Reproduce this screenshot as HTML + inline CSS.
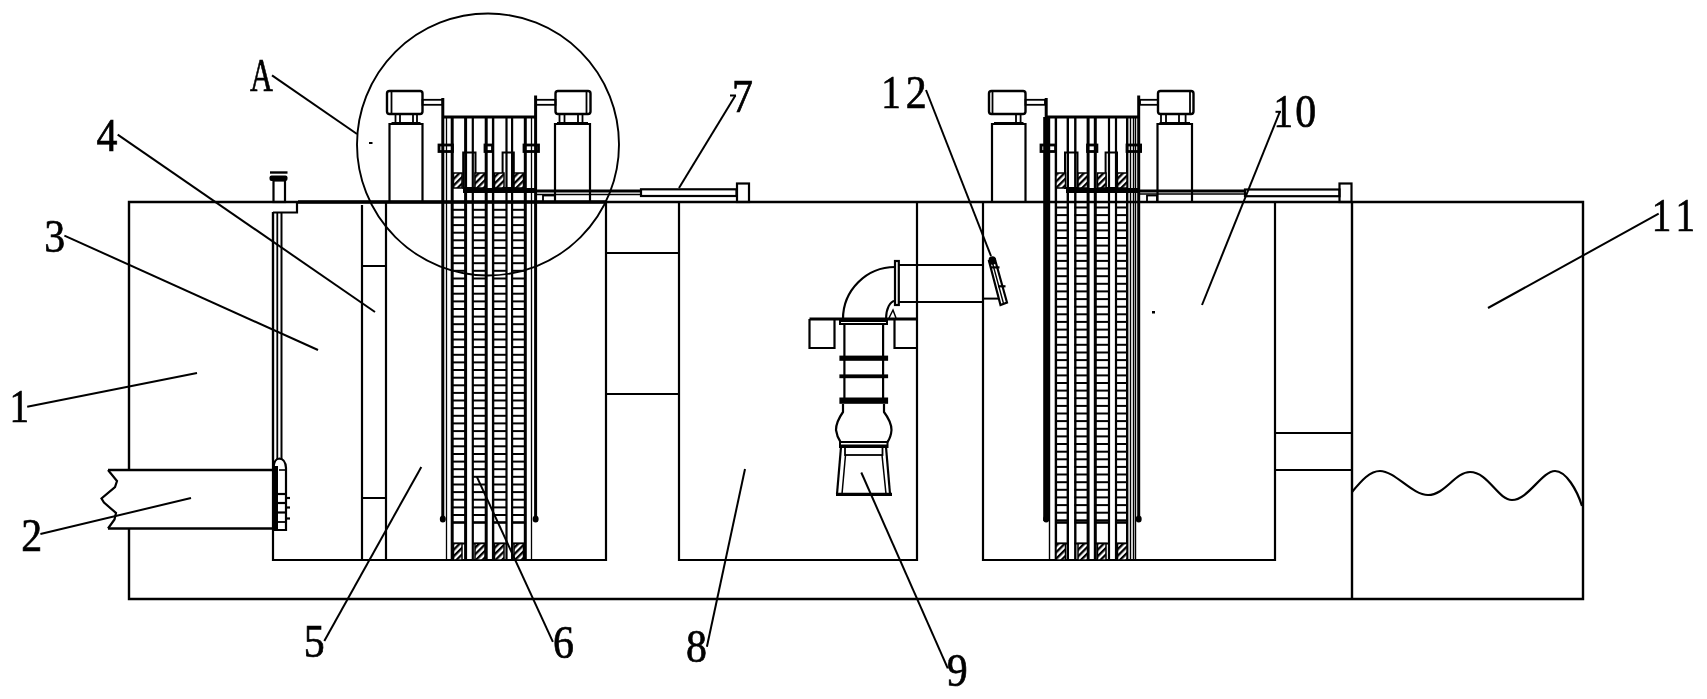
<!DOCTYPE html>
<html><head><meta charset="utf-8">
<style>
html,body{margin:0;padding:0;background:#fff;}
body{width:1707px;height:699px;overflow:hidden;filter:grayscale(100%);}
svg{display:block;}
text{font-family:"Liberation Serif",serif;font-size:46px;fill:#000;stroke:#000;stroke-width:0.7;}
</style></head><body>
<svg width="1707" height="699" viewBox="0 0 1707 699">
<defs>
<pattern id="hat" patternUnits="userSpaceOnUse" width="4.6" height="4.6" patternTransform="rotate(45)">
<rect width="4.6" height="4.6" fill="#fff"/><rect width="2.3" height="4.6" fill="#000"/>
</pattern>
</defs>
<g fill="none" stroke="#000" stroke-linecap="butt">
<path d="M129 470 V202 H1583 V599 H129 V528.5" stroke-width="2.4" fill="none"/>
<line x1="298.0" y1="202.0" x2="606.0" y2="202.0" stroke-width="3.5"/>
<line x1="1352.0" y1="202.0" x2="1352.0" y2="599.0" stroke-width="2.4"/>
<path d="M273 212.5 H297 V202" stroke-width="2.2" fill="none"/>
<path d="M273 212 V560 H606 V202" stroke-width="2.2" fill="none"/>
<line x1="362.0" y1="205.0" x2="362.0" y2="560.0" stroke-width="2.2"/>
<line x1="386.0" y1="202.0" x2="386.0" y2="560.0" stroke-width="2.2"/>
<line x1="362.0" y1="266.0" x2="386.0" y2="266.0" stroke-width="2"/>
<line x1="362.0" y1="498.0" x2="386.0" y2="498.0" stroke-width="2"/>
<line x1="606.0" y1="253.0" x2="679.0" y2="253.0" stroke-width="2.2"/>
<line x1="606.0" y1="394.0" x2="679.0" y2="394.0" stroke-width="2.2"/>
<path d="M679 202 V560 H917 V202" stroke-width="2.2" fill="none"/>
<path d="M983 202 V560 H1275 V202" stroke-width="2.2" fill="none"/>
<line x1="1275.0" y1="433.0" x2="1352.0" y2="433.0" stroke-width="2.2"/>
<line x1="1275.0" y1="470.0" x2="1352.0" y2="470.0" stroke-width="2.2"/>
<path d="M1352 492 C1362 480 1370 471 1380 471 C1395 471 1412 495 1428 495 C1445 495 1455 472 1470 472 C1488 472 1498 500 1512 500 C1528 500 1542 471 1555 471 C1566 471 1577 490 1582 506" stroke-width="2.2" fill="none"/>
<path d="M108 470 H273" stroke-width="2.4" fill="none"/>
<path d="M108 528.5 H273" stroke-width="2.4" fill="none"/>
<path d="M108 470 L117 481 L115 487 L101.5 498.5 L104 502.5 L116 513 L114.5 519.5 L108 528.5" stroke-width="2.2" fill="none"/>
<line x1="273.0" y1="212.0" x2="273.0" y2="460.0" stroke-width="2.2"/>
<line x1="277.3" y1="212.0" x2="277.3" y2="460.0" stroke-width="1.8"/>
<line x1="281.5" y1="212.0" x2="281.5" y2="460.0" stroke-width="2"/>
<path d="M273.5 530 V468 Q274 458.5 279.5 458.5 Q285.5 459 286 468 V530 Z" stroke-width="2.2" fill="none"/>
<rect x="273.0" y="466.0" width="5.0" height="64.0" fill="#000" stroke="none"/>
<line x1="279.0" y1="470.0" x2="285.0" y2="470.0" stroke-width="1.6"/>
<line x1="278.0" y1="494.0" x2="286.0" y2="494.0" stroke-width="2.2"/>
<line x1="278.0" y1="503.0" x2="286.0" y2="503.0" stroke-width="2.2"/>
<line x1="278.0" y1="512.5" x2="286.0" y2="512.5" stroke-width="2.2"/>
<line x1="278.0" y1="522.0" x2="286.0" y2="522.0" stroke-width="1.8"/>
<line x1="285.0" y1="498.0" x2="290.0" y2="498.0" stroke-width="2.2"/>
<line x1="285.0" y1="507.5" x2="290.0" y2="507.5" stroke-width="2.2"/>
<line x1="285.0" y1="518.5" x2="290.0" y2="518.5" stroke-width="2.2"/>
<rect x="273.5" y="180.5" width="11.5" height="21.5" stroke-width="2.2" fill="none"/>
<rect x="269.5" y="175.5" width="18" height="5.5" rx="2" fill="#000" stroke="none"/>
<line x1="270.0" y1="172.5" x2="287.5" y2="172.5" stroke-width="2.4"/>
<circle cx="488" cy="144.5" r="131" stroke-width="1.9"/>
<rect x="387.0" y="91" width="35.5" height="23" rx="2.5" stroke-width="2.4" fill="none"/>
<line x1="391.5" y1="92.0" x2="391.5" y2="113.0" stroke-width="1.8"/>
<rect x="422.5" y="99.8" width="20.0" height="5.0" stroke-width="1.8" fill="none"/>
<line x1="395.5" y1="114.0" x2="395.5" y2="123.0" stroke-width="1.8"/>
<line x1="400.0" y1="114.0" x2="400.0" y2="123.0" stroke-width="1.8"/>
<line x1="413.0" y1="114.0" x2="413.0" y2="123.0" stroke-width="1.8"/>
<line x1="417.0" y1="114.0" x2="417.0" y2="123.0" stroke-width="1.8"/>
<line x1="391.5" y1="123.5" x2="420.5" y2="123.5" stroke-width="3"/>
<path d="M389.5 202 V124 H422.5 V202" stroke-width="2.2" fill="none"/>
<rect x="555.5" y="91" width="35.0" height="23" rx="2.5" stroke-width="2.4" fill="none"/>
<line x1="586.5" y1="92.0" x2="586.5" y2="113.0" stroke-width="1.8"/>
<rect x="536.0" y="99.8" width="19.5" height="5.0" stroke-width="1.8" fill="none"/>
<line x1="559.5" y1="114.0" x2="559.5" y2="123.0" stroke-width="1.8"/>
<line x1="564.5" y1="114.0" x2="564.5" y2="123.0" stroke-width="1.8"/>
<line x1="578.0" y1="114.0" x2="578.0" y2="123.0" stroke-width="1.8"/>
<line x1="582.5" y1="114.0" x2="582.5" y2="123.0" stroke-width="1.8"/>
<line x1="557.0" y1="123.5" x2="588.0" y2="123.5" stroke-width="3"/>
<path d="M555.0 202 V124 H590.0 V202" stroke-width="2.2" fill="none"/>
<line x1="442.8" y1="98.0" x2="442.8" y2="117.0" stroke-width="3"/>
<line x1="535.6" y1="95.5" x2="535.6" y2="117.0" stroke-width="3"/>
<line x1="442.8" y1="117.0" x2="442.8" y2="521.0" stroke-width="3"/>
<line x1="535.6" y1="117.0" x2="535.6" y2="521.0" stroke-width="3"/>
<line x1="442.8" y1="117.0" x2="535.6" y2="117.0" stroke-width="3.2"/>
<line x1="452.2" y1="117.0" x2="452.2" y2="560.0" stroke-width="3"/>
<line x1="465.6" y1="117.0" x2="465.6" y2="560.0" stroke-width="3"/>
<line x1="472.8" y1="117.0" x2="472.8" y2="560.0" stroke-width="2.2"/>
<line x1="486.2" y1="117.0" x2="486.2" y2="560.0" stroke-width="3"/>
<line x1="493.1" y1="117.0" x2="493.1" y2="560.0" stroke-width="2.4"/>
<line x1="506.5" y1="117.0" x2="506.5" y2="560.0" stroke-width="2.2"/>
<line x1="512.1" y1="117.0" x2="512.1" y2="560.0" stroke-width="2.2"/>
<line x1="525.3" y1="117.0" x2="525.3" y2="560.0" stroke-width="3"/>
<line x1="446.5" y1="117.0" x2="446.5" y2="560.0" stroke-width="1.3"/>
<line x1="531.5" y1="117.0" x2="531.5" y2="560.0" stroke-width="1.3"/>
<rect x="439.0" y="145.0" width="13.5" height="6.5" stroke-width="2.8" fill="none"/>
<rect x="485.0" y="145.0" width="7.5" height="6.5" stroke-width="2.8" fill="none"/>
<rect x="524.0" y="145.0" width="14.5" height="6.5" stroke-width="2.8" fill="none"/>
<rect x="463.2" y="152.5" width="12.3" height="35.5" stroke-width="2" fill="none"/>
<rect x="502.6" y="152.5" width="11.2" height="35.5" stroke-width="2" fill="none"/>
<rect x="453.5" y="173.0" width="8.5" height="15.0" fill="url(#hat)" stroke="#000" stroke-width="1.5"/>
<rect x="475.0" y="173.0" width="10.0" height="15.0" fill="url(#hat)" stroke="#000" stroke-width="1.5"/>
<rect x="494.5" y="173.0" width="9.5" height="15.0" fill="url(#hat)" stroke="#000" stroke-width="1.5"/>
<rect x="514.0" y="173.0" width="9.5" height="15.0" fill="url(#hat)" stroke="#000" stroke-width="1.5"/>
<rect x="463.0" y="188.0" width="73.0" height="5.0" fill="#000" stroke="none"/>
<line x1="452.0" y1="209.8" x2="466.0" y2="209.8" stroke-width="2"/>
<line x1="472.5" y1="209.8" x2="486.5" y2="209.8" stroke-width="2"/>
<line x1="493.0" y1="209.8" x2="507.0" y2="209.8" stroke-width="2"/>
<line x1="511.5" y1="209.8" x2="526.0" y2="209.8" stroke-width="2"/>
<line x1="452.0" y1="217.4" x2="466.0" y2="217.4" stroke-width="2"/>
<line x1="472.5" y1="217.4" x2="486.5" y2="217.4" stroke-width="2"/>
<line x1="493.0" y1="217.4" x2="507.0" y2="217.4" stroke-width="2"/>
<line x1="511.5" y1="217.4" x2="526.0" y2="217.4" stroke-width="2"/>
<line x1="452.0" y1="225.1" x2="466.0" y2="225.1" stroke-width="2"/>
<line x1="472.5" y1="225.1" x2="486.5" y2="225.1" stroke-width="2"/>
<line x1="493.0" y1="225.1" x2="507.0" y2="225.1" stroke-width="2"/>
<line x1="511.5" y1="225.1" x2="526.0" y2="225.1" stroke-width="2"/>
<line x1="452.0" y1="232.7" x2="466.0" y2="232.7" stroke-width="2"/>
<line x1="472.5" y1="232.7" x2="486.5" y2="232.7" stroke-width="2"/>
<line x1="493.0" y1="232.7" x2="507.0" y2="232.7" stroke-width="2"/>
<line x1="511.5" y1="232.7" x2="526.0" y2="232.7" stroke-width="2"/>
<line x1="452.0" y1="240.3" x2="466.0" y2="240.3" stroke-width="2"/>
<line x1="472.5" y1="240.3" x2="486.5" y2="240.3" stroke-width="2"/>
<line x1="493.0" y1="240.3" x2="507.0" y2="240.3" stroke-width="2"/>
<line x1="511.5" y1="240.3" x2="526.0" y2="240.3" stroke-width="2"/>
<line x1="452.0" y1="247.9" x2="466.0" y2="247.9" stroke-width="2"/>
<line x1="472.5" y1="247.9" x2="486.5" y2="247.9" stroke-width="2"/>
<line x1="493.0" y1="247.9" x2="507.0" y2="247.9" stroke-width="2"/>
<line x1="511.5" y1="247.9" x2="526.0" y2="247.9" stroke-width="2"/>
<line x1="452.0" y1="255.6" x2="466.0" y2="255.6" stroke-width="2"/>
<line x1="472.5" y1="255.6" x2="486.5" y2="255.6" stroke-width="2"/>
<line x1="493.0" y1="255.6" x2="507.0" y2="255.6" stroke-width="2"/>
<line x1="511.5" y1="255.6" x2="526.0" y2="255.6" stroke-width="2"/>
<line x1="452.0" y1="263.2" x2="466.0" y2="263.2" stroke-width="2"/>
<line x1="472.5" y1="263.2" x2="486.5" y2="263.2" stroke-width="2"/>
<line x1="493.0" y1="263.2" x2="507.0" y2="263.2" stroke-width="2"/>
<line x1="511.5" y1="263.2" x2="526.0" y2="263.2" stroke-width="2"/>
<line x1="452.0" y1="270.8" x2="466.0" y2="270.8" stroke-width="2"/>
<line x1="472.5" y1="270.8" x2="486.5" y2="270.8" stroke-width="2"/>
<line x1="493.0" y1="270.8" x2="507.0" y2="270.8" stroke-width="2"/>
<line x1="511.5" y1="270.8" x2="526.0" y2="270.8" stroke-width="2"/>
<line x1="452.0" y1="278.5" x2="466.0" y2="278.5" stroke-width="2"/>
<line x1="472.5" y1="278.5" x2="486.5" y2="278.5" stroke-width="2"/>
<line x1="493.0" y1="278.5" x2="507.0" y2="278.5" stroke-width="2"/>
<line x1="511.5" y1="278.5" x2="526.0" y2="278.5" stroke-width="2"/>
<line x1="452.0" y1="286.1" x2="466.0" y2="286.1" stroke-width="2"/>
<line x1="472.5" y1="286.1" x2="486.5" y2="286.1" stroke-width="2"/>
<line x1="493.0" y1="286.1" x2="507.0" y2="286.1" stroke-width="2"/>
<line x1="511.5" y1="286.1" x2="526.0" y2="286.1" stroke-width="2"/>
<line x1="452.0" y1="293.7" x2="466.0" y2="293.7" stroke-width="2"/>
<line x1="472.5" y1="293.7" x2="486.5" y2="293.7" stroke-width="2"/>
<line x1="493.0" y1="293.7" x2="507.0" y2="293.7" stroke-width="2"/>
<line x1="511.5" y1="293.7" x2="526.0" y2="293.7" stroke-width="2"/>
<line x1="452.0" y1="301.4" x2="466.0" y2="301.4" stroke-width="2"/>
<line x1="472.5" y1="301.4" x2="486.5" y2="301.4" stroke-width="2"/>
<line x1="493.0" y1="301.4" x2="507.0" y2="301.4" stroke-width="2"/>
<line x1="511.5" y1="301.4" x2="526.0" y2="301.4" stroke-width="2"/>
<line x1="452.0" y1="309.0" x2="466.0" y2="309.0" stroke-width="2"/>
<line x1="472.5" y1="309.0" x2="486.5" y2="309.0" stroke-width="2"/>
<line x1="493.0" y1="309.0" x2="507.0" y2="309.0" stroke-width="2"/>
<line x1="511.5" y1="309.0" x2="526.0" y2="309.0" stroke-width="2"/>
<line x1="452.0" y1="316.6" x2="466.0" y2="316.6" stroke-width="2"/>
<line x1="472.5" y1="316.6" x2="486.5" y2="316.6" stroke-width="2"/>
<line x1="493.0" y1="316.6" x2="507.0" y2="316.6" stroke-width="2"/>
<line x1="511.5" y1="316.6" x2="526.0" y2="316.6" stroke-width="2"/>
<line x1="452.0" y1="324.2" x2="466.0" y2="324.2" stroke-width="2"/>
<line x1="472.5" y1="324.2" x2="486.5" y2="324.2" stroke-width="2"/>
<line x1="493.0" y1="324.2" x2="507.0" y2="324.2" stroke-width="2"/>
<line x1="511.5" y1="324.2" x2="526.0" y2="324.2" stroke-width="2"/>
<line x1="452.0" y1="331.9" x2="466.0" y2="331.9" stroke-width="2"/>
<line x1="472.5" y1="331.9" x2="486.5" y2="331.9" stroke-width="2"/>
<line x1="493.0" y1="331.9" x2="507.0" y2="331.9" stroke-width="2"/>
<line x1="511.5" y1="331.9" x2="526.0" y2="331.9" stroke-width="2"/>
<line x1="452.0" y1="339.5" x2="466.0" y2="339.5" stroke-width="2"/>
<line x1="472.5" y1="339.5" x2="486.5" y2="339.5" stroke-width="2"/>
<line x1="493.0" y1="339.5" x2="507.0" y2="339.5" stroke-width="2"/>
<line x1="511.5" y1="339.5" x2="526.0" y2="339.5" stroke-width="2"/>
<line x1="452.0" y1="347.1" x2="466.0" y2="347.1" stroke-width="2"/>
<line x1="472.5" y1="347.1" x2="486.5" y2="347.1" stroke-width="2"/>
<line x1="493.0" y1="347.1" x2="507.0" y2="347.1" stroke-width="2"/>
<line x1="511.5" y1="347.1" x2="526.0" y2="347.1" stroke-width="2"/>
<line x1="452.0" y1="354.8" x2="466.0" y2="354.8" stroke-width="2"/>
<line x1="472.5" y1="354.8" x2="486.5" y2="354.8" stroke-width="2"/>
<line x1="493.0" y1="354.8" x2="507.0" y2="354.8" stroke-width="2"/>
<line x1="511.5" y1="354.8" x2="526.0" y2="354.8" stroke-width="2"/>
<line x1="452.0" y1="362.4" x2="466.0" y2="362.4" stroke-width="2"/>
<line x1="472.5" y1="362.4" x2="486.5" y2="362.4" stroke-width="2"/>
<line x1="493.0" y1="362.4" x2="507.0" y2="362.4" stroke-width="2"/>
<line x1="511.5" y1="362.4" x2="526.0" y2="362.4" stroke-width="2"/>
<line x1="452.0" y1="370.0" x2="466.0" y2="370.0" stroke-width="2"/>
<line x1="472.5" y1="370.0" x2="486.5" y2="370.0" stroke-width="2"/>
<line x1="493.0" y1="370.0" x2="507.0" y2="370.0" stroke-width="2"/>
<line x1="511.5" y1="370.0" x2="526.0" y2="370.0" stroke-width="2"/>
<line x1="452.0" y1="377.7" x2="466.0" y2="377.7" stroke-width="2"/>
<line x1="472.5" y1="377.7" x2="486.5" y2="377.7" stroke-width="2"/>
<line x1="493.0" y1="377.7" x2="507.0" y2="377.7" stroke-width="2"/>
<line x1="511.5" y1="377.7" x2="526.0" y2="377.7" stroke-width="2"/>
<line x1="452.0" y1="385.3" x2="466.0" y2="385.3" stroke-width="2"/>
<line x1="472.5" y1="385.3" x2="486.5" y2="385.3" stroke-width="2"/>
<line x1="493.0" y1="385.3" x2="507.0" y2="385.3" stroke-width="2"/>
<line x1="511.5" y1="385.3" x2="526.0" y2="385.3" stroke-width="2"/>
<line x1="452.0" y1="392.9" x2="466.0" y2="392.9" stroke-width="2"/>
<line x1="472.5" y1="392.9" x2="486.5" y2="392.9" stroke-width="2"/>
<line x1="493.0" y1="392.9" x2="507.0" y2="392.9" stroke-width="2"/>
<line x1="511.5" y1="392.9" x2="526.0" y2="392.9" stroke-width="2"/>
<line x1="452.0" y1="400.5" x2="466.0" y2="400.5" stroke-width="2"/>
<line x1="472.5" y1="400.5" x2="486.5" y2="400.5" stroke-width="2"/>
<line x1="493.0" y1="400.5" x2="507.0" y2="400.5" stroke-width="2"/>
<line x1="511.5" y1="400.5" x2="526.0" y2="400.5" stroke-width="2"/>
<line x1="452.0" y1="408.2" x2="466.0" y2="408.2" stroke-width="2"/>
<line x1="472.5" y1="408.2" x2="486.5" y2="408.2" stroke-width="2"/>
<line x1="493.0" y1="408.2" x2="507.0" y2="408.2" stroke-width="2"/>
<line x1="511.5" y1="408.2" x2="526.0" y2="408.2" stroke-width="2"/>
<line x1="452.0" y1="415.8" x2="466.0" y2="415.8" stroke-width="2"/>
<line x1="472.5" y1="415.8" x2="486.5" y2="415.8" stroke-width="2"/>
<line x1="493.0" y1="415.8" x2="507.0" y2="415.8" stroke-width="2"/>
<line x1="511.5" y1="415.8" x2="526.0" y2="415.8" stroke-width="2"/>
<line x1="452.0" y1="423.4" x2="466.0" y2="423.4" stroke-width="2"/>
<line x1="472.5" y1="423.4" x2="486.5" y2="423.4" stroke-width="2"/>
<line x1="493.0" y1="423.4" x2="507.0" y2="423.4" stroke-width="2"/>
<line x1="511.5" y1="423.4" x2="526.0" y2="423.4" stroke-width="2"/>
<line x1="452.0" y1="431.1" x2="466.0" y2="431.1" stroke-width="2"/>
<line x1="472.5" y1="431.1" x2="486.5" y2="431.1" stroke-width="2"/>
<line x1="493.0" y1="431.1" x2="507.0" y2="431.1" stroke-width="2"/>
<line x1="511.5" y1="431.1" x2="526.0" y2="431.1" stroke-width="2"/>
<line x1="452.0" y1="438.7" x2="466.0" y2="438.7" stroke-width="2"/>
<line x1="472.5" y1="438.7" x2="486.5" y2="438.7" stroke-width="2"/>
<line x1="493.0" y1="438.7" x2="507.0" y2="438.7" stroke-width="2"/>
<line x1="511.5" y1="438.7" x2="526.0" y2="438.7" stroke-width="2"/>
<line x1="452.0" y1="446.3" x2="466.0" y2="446.3" stroke-width="2"/>
<line x1="472.5" y1="446.3" x2="486.5" y2="446.3" stroke-width="2"/>
<line x1="493.0" y1="446.3" x2="507.0" y2="446.3" stroke-width="2"/>
<line x1="511.5" y1="446.3" x2="526.0" y2="446.3" stroke-width="2"/>
<line x1="452.0" y1="454.0" x2="466.0" y2="454.0" stroke-width="2"/>
<line x1="472.5" y1="454.0" x2="486.5" y2="454.0" stroke-width="2"/>
<line x1="493.0" y1="454.0" x2="507.0" y2="454.0" stroke-width="2"/>
<line x1="511.5" y1="454.0" x2="526.0" y2="454.0" stroke-width="2"/>
<line x1="452.0" y1="461.6" x2="466.0" y2="461.6" stroke-width="2"/>
<line x1="472.5" y1="461.6" x2="486.5" y2="461.6" stroke-width="2"/>
<line x1="493.0" y1="461.6" x2="507.0" y2="461.6" stroke-width="2"/>
<line x1="511.5" y1="461.6" x2="526.0" y2="461.6" stroke-width="2"/>
<line x1="452.0" y1="469.2" x2="466.0" y2="469.2" stroke-width="2"/>
<line x1="472.5" y1="469.2" x2="486.5" y2="469.2" stroke-width="2"/>
<line x1="493.0" y1="469.2" x2="507.0" y2="469.2" stroke-width="2"/>
<line x1="511.5" y1="469.2" x2="526.0" y2="469.2" stroke-width="2"/>
<line x1="452.0" y1="476.8" x2="466.0" y2="476.8" stroke-width="2"/>
<line x1="472.5" y1="476.8" x2="486.5" y2="476.8" stroke-width="2"/>
<line x1="493.0" y1="476.8" x2="507.0" y2="476.8" stroke-width="2"/>
<line x1="511.5" y1="476.8" x2="526.0" y2="476.8" stroke-width="2"/>
<line x1="452.0" y1="484.5" x2="466.0" y2="484.5" stroke-width="2"/>
<line x1="472.5" y1="484.5" x2="486.5" y2="484.5" stroke-width="2"/>
<line x1="493.0" y1="484.5" x2="507.0" y2="484.5" stroke-width="2"/>
<line x1="511.5" y1="484.5" x2="526.0" y2="484.5" stroke-width="2"/>
<line x1="452.0" y1="492.1" x2="466.0" y2="492.1" stroke-width="2"/>
<line x1="472.5" y1="492.1" x2="486.5" y2="492.1" stroke-width="2"/>
<line x1="493.0" y1="492.1" x2="507.0" y2="492.1" stroke-width="2"/>
<line x1="511.5" y1="492.1" x2="526.0" y2="492.1" stroke-width="2"/>
<line x1="452.0" y1="499.7" x2="466.0" y2="499.7" stroke-width="2"/>
<line x1="472.5" y1="499.7" x2="486.5" y2="499.7" stroke-width="2"/>
<line x1="493.0" y1="499.7" x2="507.0" y2="499.7" stroke-width="2"/>
<line x1="511.5" y1="499.7" x2="526.0" y2="499.7" stroke-width="2"/>
<line x1="452.0" y1="507.4" x2="466.0" y2="507.4" stroke-width="2"/>
<line x1="472.5" y1="507.4" x2="486.5" y2="507.4" stroke-width="2"/>
<line x1="493.0" y1="507.4" x2="507.0" y2="507.4" stroke-width="2"/>
<line x1="511.5" y1="507.4" x2="526.0" y2="507.4" stroke-width="2"/>
<line x1="452.0" y1="515.0" x2="466.0" y2="515.0" stroke-width="2"/>
<line x1="472.5" y1="515.0" x2="486.5" y2="515.0" stroke-width="2"/>
<line x1="493.0" y1="515.0" x2="507.0" y2="515.0" stroke-width="2"/>
<line x1="511.5" y1="515.0" x2="526.0" y2="515.0" stroke-width="2"/>
<line x1="452.0" y1="522.5" x2="466.0" y2="522.5" stroke-width="2.6"/>
<line x1="452.0" y1="543.5" x2="466.0" y2="543.5" stroke-width="2"/>
<line x1="472.5" y1="522.5" x2="486.5" y2="522.5" stroke-width="2.6"/>
<line x1="472.5" y1="543.5" x2="486.5" y2="543.5" stroke-width="2"/>
<line x1="493.0" y1="522.5" x2="507.0" y2="522.5" stroke-width="2.6"/>
<line x1="493.0" y1="543.5" x2="507.0" y2="543.5" stroke-width="2"/>
<line x1="511.5" y1="522.5" x2="526.0" y2="522.5" stroke-width="2.6"/>
<line x1="511.5" y1="543.5" x2="526.0" y2="543.5" stroke-width="2"/>
<rect x="453.5" y="543.5" width="8.5" height="16.5" fill="url(#hat)" stroke="#000" stroke-width="1.5"/>
<rect x="475.0" y="543.5" width="10.0" height="16.5" fill="url(#hat)" stroke="#000" stroke-width="1.5"/>
<rect x="494.5" y="543.5" width="9.5" height="16.5" fill="url(#hat)" stroke="#000" stroke-width="1.5"/>
<rect x="514.0" y="543.5" width="9.5" height="16.5" fill="url(#hat)" stroke="#000" stroke-width="1.5"/>
<ellipse cx="442.8" cy="519" rx="3" ry="3.5" fill="#000" stroke="none"/>
<ellipse cx="535.6" cy="519" rx="3" ry="3.5" fill="#000" stroke="none"/>
<line x1="536.0" y1="191.0" x2="641.0" y2="191.0" stroke-width="2.8"/>
<line x1="536.0" y1="194.5" x2="641.0" y2="194.5" stroke-width="1.4"/>
<rect x="369.0" y="142.0" width="3.5" height="2.0" fill="#000" stroke="none"/>
<rect x="1152.0" y="311.0" width="3.0" height="2.5" fill="#000" stroke="none"/>
<rect x="641.0" y="189.3" width="95.5" height="6.7" stroke-width="2.2" fill="none"/>
<rect x="737.0" y="183.5" width="12.0" height="18.5" stroke-width="2.2" fill="none"/>
<rect x="543.0" y="195.5" width="12.0" height="6.5" stroke-width="1.8" fill="none"/>
<rect x="989.0" y="91" width="36.5" height="23" rx="2.5" stroke-width="2.4" fill="none"/>
<line x1="992.5" y1="92.0" x2="992.5" y2="113.0" stroke-width="1.8"/>
<rect x="1025.5" y="99.8" width="19.5" height="5.0" stroke-width="1.8" fill="none"/>
<line x1="1016.0" y1="114.0" x2="1016.0" y2="123.0" stroke-width="1.8"/>
<line x1="1020.6" y1="114.0" x2="1020.6" y2="123.0" stroke-width="1.8"/>
<line x1="994.0" y1="123.5" x2="1023.5" y2="123.5" stroke-width="3"/>
<path d="M992.0 202 V124 H1025.5 V202" stroke-width="2.2" fill="none"/>
<rect x="1158.0" y="91" width="35.5" height="23" rx="2.5" stroke-width="2.4" fill="none"/>
<line x1="1190.0" y1="92.0" x2="1190.0" y2="113.0" stroke-width="1.8"/>
<rect x="1140.0" y="99.8" width="18.0" height="5.0" stroke-width="1.8" fill="none"/>
<line x1="1161.0" y1="114.0" x2="1161.0" y2="123.0" stroke-width="1.8"/>
<line x1="1166.0" y1="114.0" x2="1166.0" y2="123.0" stroke-width="1.8"/>
<line x1="1179.0" y1="114.0" x2="1179.0" y2="123.0" stroke-width="1.8"/>
<line x1="1185.6" y1="114.0" x2="1185.6" y2="123.0" stroke-width="1.8"/>
<line x1="1159.5" y1="123.5" x2="1190.0" y2="123.5" stroke-width="3"/>
<path d="M1157.5 202 V124 H1192.0 V202" stroke-width="2.2" fill="none"/>
<line x1="1046.2" y1="98.0" x2="1046.2" y2="117.0" stroke-width="3"/>
<line x1="1138.7" y1="95.5" x2="1138.7" y2="117.0" stroke-width="3"/>
<line x1="1046.2" y1="117.0" x2="1046.2" y2="521.0" stroke-width="6"/>
<line x1="1138.7" y1="117.0" x2="1138.7" y2="521.0" stroke-width="3"/>
<line x1="1046.2" y1="117.0" x2="1138.7" y2="117.0" stroke-width="3.2"/>
<line x1="1055.9" y1="117.0" x2="1055.9" y2="560.0" stroke-width="2.4"/>
<line x1="1067.8" y1="117.0" x2="1067.8" y2="560.0" stroke-width="2.4"/>
<line x1="1075.3" y1="117.0" x2="1075.3" y2="560.0" stroke-width="2.4"/>
<line x1="1088.1" y1="117.0" x2="1088.1" y2="560.0" stroke-width="3"/>
<line x1="1095.3" y1="117.0" x2="1095.3" y2="560.0" stroke-width="3"/>
<line x1="1109.0" y1="117.0" x2="1109.0" y2="560.0" stroke-width="2.2"/>
<line x1="1116.0" y1="117.0" x2="1116.0" y2="560.0" stroke-width="2.2"/>
<line x1="1127.2" y1="117.0" x2="1127.2" y2="560.0" stroke-width="2.4"/>
<line x1="1130.5" y1="117.0" x2="1130.5" y2="560.0" stroke-width="1.4"/>
<line x1="1133.5" y1="117.0" x2="1133.5" y2="560.0" stroke-width="1.4"/>
<line x1="1135.5" y1="117.0" x2="1135.5" y2="560.0" stroke-width="1.4"/>
<line x1="1049.5" y1="117.0" x2="1049.5" y2="560.0" stroke-width="1.4"/>
<rect x="1041.0" y="145.0" width="14.6" height="6.5" stroke-width="2.8" fill="none"/>
<rect x="1087.5" y="145.0" width="9.4" height="6.5" stroke-width="2.8" fill="none"/>
<rect x="1127.0" y="145.0" width="13.6" height="6.5" stroke-width="2.8" fill="none"/>
<rect x="1065.0" y="152.5" width="12.5" height="35.5" stroke-width="2" fill="none"/>
<rect x="1105.6" y="152.5" width="11.4" height="35.5" stroke-width="2" fill="none"/>
<rect x="1056.0" y="173.0" width="9.5" height="15.0" fill="url(#hat)" stroke="#000" stroke-width="1.5"/>
<rect x="1078.0" y="173.0" width="9.5" height="15.0" fill="url(#hat)" stroke="#000" stroke-width="1.5"/>
<rect x="1097.5" y="173.0" width="8.5" height="15.0" fill="url(#hat)" stroke="#000" stroke-width="1.5"/>
<rect x="1117.5" y="173.0" width="9.5" height="15.0" fill="url(#hat)" stroke="#000" stroke-width="1.5"/>
<rect x="1066.0" y="188.0" width="74.0" height="5.0" fill="#000" stroke="none"/>
<line x1="1055.0" y1="207.5" x2="1068.5" y2="207.5" stroke-width="2"/>
<line x1="1074.5" y1="207.5" x2="1089.0" y2="207.5" stroke-width="2"/>
<line x1="1094.0" y1="207.5" x2="1110.0" y2="207.5" stroke-width="2"/>
<line x1="1115.0" y1="207.5" x2="1128.0" y2="207.5" stroke-width="2"/>
<line x1="1055.0" y1="215.1" x2="1068.5" y2="215.1" stroke-width="2"/>
<line x1="1074.5" y1="215.1" x2="1089.0" y2="215.1" stroke-width="2"/>
<line x1="1094.0" y1="215.1" x2="1110.0" y2="215.1" stroke-width="2"/>
<line x1="1115.0" y1="215.1" x2="1128.0" y2="215.1" stroke-width="2"/>
<line x1="1055.0" y1="222.8" x2="1068.5" y2="222.8" stroke-width="2"/>
<line x1="1074.5" y1="222.8" x2="1089.0" y2="222.8" stroke-width="2"/>
<line x1="1094.0" y1="222.8" x2="1110.0" y2="222.8" stroke-width="2"/>
<line x1="1115.0" y1="222.8" x2="1128.0" y2="222.8" stroke-width="2"/>
<line x1="1055.0" y1="230.4" x2="1068.5" y2="230.4" stroke-width="2"/>
<line x1="1074.5" y1="230.4" x2="1089.0" y2="230.4" stroke-width="2"/>
<line x1="1094.0" y1="230.4" x2="1110.0" y2="230.4" stroke-width="2"/>
<line x1="1115.0" y1="230.4" x2="1128.0" y2="230.4" stroke-width="2"/>
<line x1="1055.0" y1="238.0" x2="1068.5" y2="238.0" stroke-width="2"/>
<line x1="1074.5" y1="238.0" x2="1089.0" y2="238.0" stroke-width="2"/>
<line x1="1094.0" y1="238.0" x2="1110.0" y2="238.0" stroke-width="2"/>
<line x1="1115.0" y1="238.0" x2="1128.0" y2="238.0" stroke-width="2"/>
<line x1="1055.0" y1="245.6" x2="1068.5" y2="245.6" stroke-width="2"/>
<line x1="1074.5" y1="245.6" x2="1089.0" y2="245.6" stroke-width="2"/>
<line x1="1094.0" y1="245.6" x2="1110.0" y2="245.6" stroke-width="2"/>
<line x1="1115.0" y1="245.6" x2="1128.0" y2="245.6" stroke-width="2"/>
<line x1="1055.0" y1="253.3" x2="1068.5" y2="253.3" stroke-width="2"/>
<line x1="1074.5" y1="253.3" x2="1089.0" y2="253.3" stroke-width="2"/>
<line x1="1094.0" y1="253.3" x2="1110.0" y2="253.3" stroke-width="2"/>
<line x1="1115.0" y1="253.3" x2="1128.0" y2="253.3" stroke-width="2"/>
<line x1="1055.0" y1="260.9" x2="1068.5" y2="260.9" stroke-width="2"/>
<line x1="1074.5" y1="260.9" x2="1089.0" y2="260.9" stroke-width="2"/>
<line x1="1094.0" y1="260.9" x2="1110.0" y2="260.9" stroke-width="2"/>
<line x1="1115.0" y1="260.9" x2="1128.0" y2="260.9" stroke-width="2"/>
<line x1="1055.0" y1="268.5" x2="1068.5" y2="268.5" stroke-width="2"/>
<line x1="1074.5" y1="268.5" x2="1089.0" y2="268.5" stroke-width="2"/>
<line x1="1094.0" y1="268.5" x2="1110.0" y2="268.5" stroke-width="2"/>
<line x1="1115.0" y1="268.5" x2="1128.0" y2="268.5" stroke-width="2"/>
<line x1="1055.0" y1="276.2" x2="1068.5" y2="276.2" stroke-width="2"/>
<line x1="1074.5" y1="276.2" x2="1089.0" y2="276.2" stroke-width="2"/>
<line x1="1094.0" y1="276.2" x2="1110.0" y2="276.2" stroke-width="2"/>
<line x1="1115.0" y1="276.2" x2="1128.0" y2="276.2" stroke-width="2"/>
<line x1="1055.0" y1="283.8" x2="1068.5" y2="283.8" stroke-width="2"/>
<line x1="1074.5" y1="283.8" x2="1089.0" y2="283.8" stroke-width="2"/>
<line x1="1094.0" y1="283.8" x2="1110.0" y2="283.8" stroke-width="2"/>
<line x1="1115.0" y1="283.8" x2="1128.0" y2="283.8" stroke-width="2"/>
<line x1="1055.0" y1="291.4" x2="1068.5" y2="291.4" stroke-width="2"/>
<line x1="1074.5" y1="291.4" x2="1089.0" y2="291.4" stroke-width="2"/>
<line x1="1094.0" y1="291.4" x2="1110.0" y2="291.4" stroke-width="2"/>
<line x1="1115.0" y1="291.4" x2="1128.0" y2="291.4" stroke-width="2"/>
<line x1="1055.0" y1="299.1" x2="1068.5" y2="299.1" stroke-width="2"/>
<line x1="1074.5" y1="299.1" x2="1089.0" y2="299.1" stroke-width="2"/>
<line x1="1094.0" y1="299.1" x2="1110.0" y2="299.1" stroke-width="2"/>
<line x1="1115.0" y1="299.1" x2="1128.0" y2="299.1" stroke-width="2"/>
<line x1="1055.0" y1="306.7" x2="1068.5" y2="306.7" stroke-width="2"/>
<line x1="1074.5" y1="306.7" x2="1089.0" y2="306.7" stroke-width="2"/>
<line x1="1094.0" y1="306.7" x2="1110.0" y2="306.7" stroke-width="2"/>
<line x1="1115.0" y1="306.7" x2="1128.0" y2="306.7" stroke-width="2"/>
<line x1="1055.0" y1="314.3" x2="1068.5" y2="314.3" stroke-width="2"/>
<line x1="1074.5" y1="314.3" x2="1089.0" y2="314.3" stroke-width="2"/>
<line x1="1094.0" y1="314.3" x2="1110.0" y2="314.3" stroke-width="2"/>
<line x1="1115.0" y1="314.3" x2="1128.0" y2="314.3" stroke-width="2"/>
<line x1="1055.0" y1="321.9" x2="1068.5" y2="321.9" stroke-width="2"/>
<line x1="1074.5" y1="321.9" x2="1089.0" y2="321.9" stroke-width="2"/>
<line x1="1094.0" y1="321.9" x2="1110.0" y2="321.9" stroke-width="2"/>
<line x1="1115.0" y1="321.9" x2="1128.0" y2="321.9" stroke-width="2"/>
<line x1="1055.0" y1="329.6" x2="1068.5" y2="329.6" stroke-width="2"/>
<line x1="1074.5" y1="329.6" x2="1089.0" y2="329.6" stroke-width="2"/>
<line x1="1094.0" y1="329.6" x2="1110.0" y2="329.6" stroke-width="2"/>
<line x1="1115.0" y1="329.6" x2="1128.0" y2="329.6" stroke-width="2"/>
<line x1="1055.0" y1="337.2" x2="1068.5" y2="337.2" stroke-width="2"/>
<line x1="1074.5" y1="337.2" x2="1089.0" y2="337.2" stroke-width="2"/>
<line x1="1094.0" y1="337.2" x2="1110.0" y2="337.2" stroke-width="2"/>
<line x1="1115.0" y1="337.2" x2="1128.0" y2="337.2" stroke-width="2"/>
<line x1="1055.0" y1="344.8" x2="1068.5" y2="344.8" stroke-width="2"/>
<line x1="1074.5" y1="344.8" x2="1089.0" y2="344.8" stroke-width="2"/>
<line x1="1094.0" y1="344.8" x2="1110.0" y2="344.8" stroke-width="2"/>
<line x1="1115.0" y1="344.8" x2="1128.0" y2="344.8" stroke-width="2"/>
<line x1="1055.0" y1="352.5" x2="1068.5" y2="352.5" stroke-width="2"/>
<line x1="1074.5" y1="352.5" x2="1089.0" y2="352.5" stroke-width="2"/>
<line x1="1094.0" y1="352.5" x2="1110.0" y2="352.5" stroke-width="2"/>
<line x1="1115.0" y1="352.5" x2="1128.0" y2="352.5" stroke-width="2"/>
<line x1="1055.0" y1="360.1" x2="1068.5" y2="360.1" stroke-width="2"/>
<line x1="1074.5" y1="360.1" x2="1089.0" y2="360.1" stroke-width="2"/>
<line x1="1094.0" y1="360.1" x2="1110.0" y2="360.1" stroke-width="2"/>
<line x1="1115.0" y1="360.1" x2="1128.0" y2="360.1" stroke-width="2"/>
<line x1="1055.0" y1="367.7" x2="1068.5" y2="367.7" stroke-width="2"/>
<line x1="1074.5" y1="367.7" x2="1089.0" y2="367.7" stroke-width="2"/>
<line x1="1094.0" y1="367.7" x2="1110.0" y2="367.7" stroke-width="2"/>
<line x1="1115.0" y1="367.7" x2="1128.0" y2="367.7" stroke-width="2"/>
<line x1="1055.0" y1="375.4" x2="1068.5" y2="375.4" stroke-width="2"/>
<line x1="1074.5" y1="375.4" x2="1089.0" y2="375.4" stroke-width="2"/>
<line x1="1094.0" y1="375.4" x2="1110.0" y2="375.4" stroke-width="2"/>
<line x1="1115.0" y1="375.4" x2="1128.0" y2="375.4" stroke-width="2"/>
<line x1="1055.0" y1="383.0" x2="1068.5" y2="383.0" stroke-width="2"/>
<line x1="1074.5" y1="383.0" x2="1089.0" y2="383.0" stroke-width="2"/>
<line x1="1094.0" y1="383.0" x2="1110.0" y2="383.0" stroke-width="2"/>
<line x1="1115.0" y1="383.0" x2="1128.0" y2="383.0" stroke-width="2"/>
<line x1="1055.0" y1="390.6" x2="1068.5" y2="390.6" stroke-width="2"/>
<line x1="1074.5" y1="390.6" x2="1089.0" y2="390.6" stroke-width="2"/>
<line x1="1094.0" y1="390.6" x2="1110.0" y2="390.6" stroke-width="2"/>
<line x1="1115.0" y1="390.6" x2="1128.0" y2="390.6" stroke-width="2"/>
<line x1="1055.0" y1="398.2" x2="1068.5" y2="398.2" stroke-width="2"/>
<line x1="1074.5" y1="398.2" x2="1089.0" y2="398.2" stroke-width="2"/>
<line x1="1094.0" y1="398.2" x2="1110.0" y2="398.2" stroke-width="2"/>
<line x1="1115.0" y1="398.2" x2="1128.0" y2="398.2" stroke-width="2"/>
<line x1="1055.0" y1="405.9" x2="1068.5" y2="405.9" stroke-width="2"/>
<line x1="1074.5" y1="405.9" x2="1089.0" y2="405.9" stroke-width="2"/>
<line x1="1094.0" y1="405.9" x2="1110.0" y2="405.9" stroke-width="2"/>
<line x1="1115.0" y1="405.9" x2="1128.0" y2="405.9" stroke-width="2"/>
<line x1="1055.0" y1="413.5" x2="1068.5" y2="413.5" stroke-width="2"/>
<line x1="1074.5" y1="413.5" x2="1089.0" y2="413.5" stroke-width="2"/>
<line x1="1094.0" y1="413.5" x2="1110.0" y2="413.5" stroke-width="2"/>
<line x1="1115.0" y1="413.5" x2="1128.0" y2="413.5" stroke-width="2"/>
<line x1="1055.0" y1="421.1" x2="1068.5" y2="421.1" stroke-width="2"/>
<line x1="1074.5" y1="421.1" x2="1089.0" y2="421.1" stroke-width="2"/>
<line x1="1094.0" y1="421.1" x2="1110.0" y2="421.1" stroke-width="2"/>
<line x1="1115.0" y1="421.1" x2="1128.0" y2="421.1" stroke-width="2"/>
<line x1="1055.0" y1="428.8" x2="1068.5" y2="428.8" stroke-width="2"/>
<line x1="1074.5" y1="428.8" x2="1089.0" y2="428.8" stroke-width="2"/>
<line x1="1094.0" y1="428.8" x2="1110.0" y2="428.8" stroke-width="2"/>
<line x1="1115.0" y1="428.8" x2="1128.0" y2="428.8" stroke-width="2"/>
<line x1="1055.0" y1="436.4" x2="1068.5" y2="436.4" stroke-width="2"/>
<line x1="1074.5" y1="436.4" x2="1089.0" y2="436.4" stroke-width="2"/>
<line x1="1094.0" y1="436.4" x2="1110.0" y2="436.4" stroke-width="2"/>
<line x1="1115.0" y1="436.4" x2="1128.0" y2="436.4" stroke-width="2"/>
<line x1="1055.0" y1="444.0" x2="1068.5" y2="444.0" stroke-width="2"/>
<line x1="1074.5" y1="444.0" x2="1089.0" y2="444.0" stroke-width="2"/>
<line x1="1094.0" y1="444.0" x2="1110.0" y2="444.0" stroke-width="2"/>
<line x1="1115.0" y1="444.0" x2="1128.0" y2="444.0" stroke-width="2"/>
<line x1="1055.0" y1="451.7" x2="1068.5" y2="451.7" stroke-width="2"/>
<line x1="1074.5" y1="451.7" x2="1089.0" y2="451.7" stroke-width="2"/>
<line x1="1094.0" y1="451.7" x2="1110.0" y2="451.7" stroke-width="2"/>
<line x1="1115.0" y1="451.7" x2="1128.0" y2="451.7" stroke-width="2"/>
<line x1="1055.0" y1="459.3" x2="1068.5" y2="459.3" stroke-width="2"/>
<line x1="1074.5" y1="459.3" x2="1089.0" y2="459.3" stroke-width="2"/>
<line x1="1094.0" y1="459.3" x2="1110.0" y2="459.3" stroke-width="2"/>
<line x1="1115.0" y1="459.3" x2="1128.0" y2="459.3" stroke-width="2"/>
<line x1="1055.0" y1="466.9" x2="1068.5" y2="466.9" stroke-width="2"/>
<line x1="1074.5" y1="466.9" x2="1089.0" y2="466.9" stroke-width="2"/>
<line x1="1094.0" y1="466.9" x2="1110.0" y2="466.9" stroke-width="2"/>
<line x1="1115.0" y1="466.9" x2="1128.0" y2="466.9" stroke-width="2"/>
<line x1="1055.0" y1="474.5" x2="1068.5" y2="474.5" stroke-width="2"/>
<line x1="1074.5" y1="474.5" x2="1089.0" y2="474.5" stroke-width="2"/>
<line x1="1094.0" y1="474.5" x2="1110.0" y2="474.5" stroke-width="2"/>
<line x1="1115.0" y1="474.5" x2="1128.0" y2="474.5" stroke-width="2"/>
<line x1="1055.0" y1="482.2" x2="1068.5" y2="482.2" stroke-width="2"/>
<line x1="1074.5" y1="482.2" x2="1089.0" y2="482.2" stroke-width="2"/>
<line x1="1094.0" y1="482.2" x2="1110.0" y2="482.2" stroke-width="2"/>
<line x1="1115.0" y1="482.2" x2="1128.0" y2="482.2" stroke-width="2"/>
<line x1="1055.0" y1="489.8" x2="1068.5" y2="489.8" stroke-width="2"/>
<line x1="1074.5" y1="489.8" x2="1089.0" y2="489.8" stroke-width="2"/>
<line x1="1094.0" y1="489.8" x2="1110.0" y2="489.8" stroke-width="2"/>
<line x1="1115.0" y1="489.8" x2="1128.0" y2="489.8" stroke-width="2"/>
<line x1="1055.0" y1="497.4" x2="1068.5" y2="497.4" stroke-width="2"/>
<line x1="1074.5" y1="497.4" x2="1089.0" y2="497.4" stroke-width="2"/>
<line x1="1094.0" y1="497.4" x2="1110.0" y2="497.4" stroke-width="2"/>
<line x1="1115.0" y1="497.4" x2="1128.0" y2="497.4" stroke-width="2"/>
<line x1="1055.0" y1="505.1" x2="1068.5" y2="505.1" stroke-width="2"/>
<line x1="1074.5" y1="505.1" x2="1089.0" y2="505.1" stroke-width="2"/>
<line x1="1094.0" y1="505.1" x2="1110.0" y2="505.1" stroke-width="2"/>
<line x1="1115.0" y1="505.1" x2="1128.0" y2="505.1" stroke-width="2"/>
<line x1="1055.0" y1="512.7" x2="1068.5" y2="512.7" stroke-width="2"/>
<line x1="1074.5" y1="512.7" x2="1089.0" y2="512.7" stroke-width="2"/>
<line x1="1094.0" y1="512.7" x2="1110.0" y2="512.7" stroke-width="2"/>
<line x1="1115.0" y1="512.7" x2="1128.0" y2="512.7" stroke-width="2"/>
<line x1="1055.0" y1="520.3" x2="1068.5" y2="520.3" stroke-width="2"/>
<line x1="1074.5" y1="520.3" x2="1089.0" y2="520.3" stroke-width="2"/>
<line x1="1094.0" y1="520.3" x2="1110.0" y2="520.3" stroke-width="2"/>
<line x1="1115.0" y1="520.3" x2="1128.0" y2="520.3" stroke-width="2"/>
<line x1="1055.0" y1="522.5" x2="1068.5" y2="522.5" stroke-width="2.6"/>
<line x1="1055.0" y1="543.5" x2="1068.5" y2="543.5" stroke-width="2"/>
<line x1="1074.5" y1="522.5" x2="1089.0" y2="522.5" stroke-width="2.6"/>
<line x1="1074.5" y1="543.5" x2="1089.0" y2="543.5" stroke-width="2"/>
<line x1="1094.0" y1="522.5" x2="1110.0" y2="522.5" stroke-width="2.6"/>
<line x1="1094.0" y1="543.5" x2="1110.0" y2="543.5" stroke-width="2"/>
<line x1="1115.0" y1="522.5" x2="1128.0" y2="522.5" stroke-width="2.6"/>
<line x1="1115.0" y1="543.5" x2="1128.0" y2="543.5" stroke-width="2"/>
<rect x="1056.0" y="543.5" width="9.5" height="16.5" fill="url(#hat)" stroke="#000" stroke-width="1.5"/>
<rect x="1078.0" y="543.5" width="9.5" height="16.5" fill="url(#hat)" stroke="#000" stroke-width="1.5"/>
<rect x="1097.5" y="543.5" width="8.5" height="16.5" fill="url(#hat)" stroke="#000" stroke-width="1.5"/>
<rect x="1117.5" y="543.5" width="9.5" height="16.5" fill="url(#hat)" stroke="#000" stroke-width="1.5"/>
<ellipse cx="1046.2" cy="519" rx="3" ry="3.5" fill="#000" stroke="none"/>
<ellipse cx="1138.7" cy="519" rx="3" ry="3.5" fill="#000" stroke="none"/>
<line x1="1139.0" y1="191.0" x2="1245.0" y2="191.0" stroke-width="3"/>
<line x1="1139.0" y1="194.0" x2="1245.0" y2="194.0" stroke-width="1.6"/>
<rect x="1245.0" y="189.5" width="94.5" height="6.7" stroke-width="2.2" fill="none"/>
<rect x="1339.5" y="183.5" width="12.0" height="18.5" stroke-width="2.2" fill="none"/>
<rect x="1147.0" y="195.5" width="10.0" height="6.5" stroke-width="1.8" fill="none"/>
<line x1="809.5" y1="319.0" x2="917.0" y2="319.0" stroke-width="3"/>
<path d="M809.5 319 V348 H834.5 V319" stroke-width="2.2" fill="none"/>
<path d="M894.5 319 V348 H917" stroke-width="2.2" fill="none"/>
<path d="M843 319 A52 52 0 0 1 895 267" stroke-width="2.2" fill="none"/>
<path d="M886 319 A9 18 0 0 1 895 301" stroke-width="2" fill="none"/>
<path d="M889 318 L893 310 L896 318" stroke-width="1.5" fill="none"/>
<rect x="895.0" y="261.0" width="3.8" height="44.0" stroke-width="2.2" fill="none"/>
<line x1="898.8" y1="265.0" x2="983.0" y2="265.0" stroke-width="2.2"/>
<line x1="898.8" y1="302.0" x2="983.0" y2="302.0" stroke-width="2.2"/>
<rect x="840.0" y="321.0" width="47.0" height="3.0" stroke-width="2" fill="none"/>
<line x1="844.4" y1="324.0" x2="844.4" y2="400.0" stroke-width="2.2"/>
<line x1="883.1" y1="324.0" x2="883.1" y2="400.0" stroke-width="2.2"/>
<rect x="839.4" y="355.6" width="48.7" height="5.2" fill="#000" stroke="none"/>
<rect x="839.4" y="374.4" width="48.7" height="3.8" fill="#000" stroke="none"/>
<rect x="839.4" y="397.5" width="48.7" height="6.3" fill="#000" stroke="none"/>
<path d="M843 404 L843 412 Q836 422 836 430 Q837 437 840.5 442" stroke-width="2.2" fill="none"/>
<path d="M884 404 L884 412 Q891.5 422 891.5 430 Q891 437 887.5 442" stroke-width="2.2" fill="none"/>
<rect x="840.0" y="442.0" width="47.5" height="5.0" stroke-width="2" fill="none"/>
<line x1="840.0" y1="445.6" x2="887.5" y2="445.6" stroke-width="2.4"/>
<rect x="845.0" y="447.0" width="37.5" height="8.0" stroke-width="1.8" fill="none"/>
<path d="M841 447 L837 494" stroke-width="2.2" fill="none"/>
<path d="M845.5 455 L842 494" stroke-width="1.5" fill="none"/>
<path d="M886 447 L890 494" stroke-width="2.2" fill="none"/>
<path d="M882 455 L886 494" stroke-width="1.5" fill="none"/>
<line x1="836.0" y1="494.3" x2="892.0" y2="494.3" stroke-width="3.2"/>
<path d="M989 261 L1000.5 305 L1007 302.5 L995 259.5 Z" stroke-width="2.2" fill="none"/>
<line x1="992.0" y1="261.0" x2="1003.5" y2="303.5" stroke-width="1.4"/>
<ellipse cx="992.3" cy="260.5" rx="3.8" ry="4.2" fill="#000" stroke="none"/>
<line x1="990.5" y1="267.4" x2="999.5" y2="267.4" stroke-width="2.2"/>
<line x1="998.0" y1="286.3" x2="1005.5" y2="286.3" stroke-width="2.2"/>
<line x1="983.0" y1="298.6" x2="998.0" y2="298.6" stroke-width="2"/>
<line x1="272.0" y1="75.4" x2="357.0" y2="134.0" stroke-width="2"/>
<line x1="117.7" y1="134.6" x2="375.0" y2="312.0" stroke-width="2"/>
<line x1="64.4" y1="235.6" x2="318.0" y2="350.0" stroke-width="2"/>
<line x1="27.2" y1="406.8" x2="197.0" y2="373.0" stroke-width="2"/>
<line x1="40.4" y1="534.0" x2="191.0" y2="498.0" stroke-width="2"/>
<line x1="324.3" y1="640.9" x2="421.3" y2="466.9" stroke-width="2"/>
<line x1="552.9" y1="641.8" x2="476.9" y2="476.9" stroke-width="2"/>
<line x1="706.9" y1="646.8" x2="745.0" y2="469.0" stroke-width="2"/>
<line x1="947.8" y1="668.3" x2="861.3" y2="472.5" stroke-width="2"/>
<line x1="735.4" y1="95.5" x2="679.0" y2="188.0" stroke-width="2"/>
<line x1="926.0" y1="90.0" x2="991.0" y2="256.0" stroke-width="2"/>
<line x1="1279.8" y1="111.8" x2="1202.0" y2="305.0" stroke-width="2"/>
<line x1="1658.7" y1="213.7" x2="1488.0" y2="308.0" stroke-width="2"/>
<line x1="730.0" y1="95.5" x2="736.0" y2="95.5" stroke-width="2"/>
<line x1="1275.5" y1="111.8" x2="1281.0" y2="111.8" stroke-width="2"/>
</g>
<g>
<text transform="translate(250.1,91.2) scale(0.69,1)">A</text>
<text transform="translate(96.6,150.9) scale(0.91,1)">4</text>
<text transform="translate(44.2,251.8) scale(0.91,1)">3</text>
<text transform="translate(9.4,422.3) scale(0.85,1)">1</text>
<text transform="translate(21.2,550.9) scale(0.91,1)">2</text>
<text transform="translate(303.7,656.8) scale(0.91,1)">5</text>
<text transform="translate(553.1,657.7) scale(0.91,1)">6</text>
<text transform="translate(686.1,661.8) scale(0.91,1)">8</text>
<text transform="translate(946.8,685.7) scale(0.91,1)">9</text>
<text transform="translate(732.1,111.7) scale(0.91,1)">7</text>
<text transform="translate(881.2,107.7) scale(0.85,1)">1</text>
<text transform="translate(905.7,107.7) scale(0.91,1)">2</text>
<text transform="translate(1273.4,126.8) scale(0.85,1)">1</text>
<text transform="translate(1295.2,126.8) scale(0.91,1)">0</text>
<text transform="translate(1651.8,230.8) scale(0.85,1)">1</text>
<text transform="translate(1675.6,230.8) scale(0.85,1)">1</text>
</g>
</svg>
</body></html>
